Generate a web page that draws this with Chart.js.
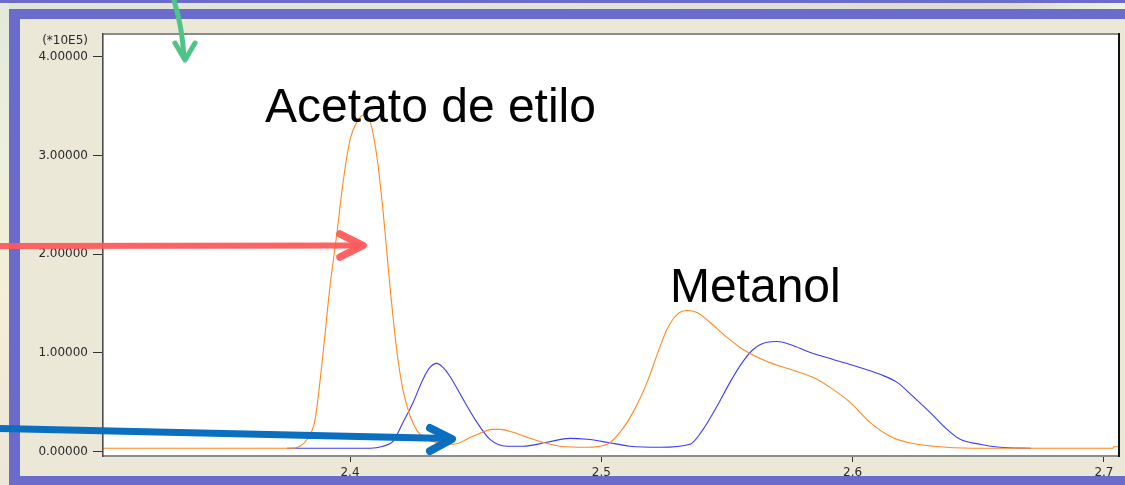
<!DOCTYPE html>
<html>
<head>
<meta charset="utf-8">
<title>Cromatograma</title>
<script src="https://cdn.jsdelivr.net/npm/chart.js@4.4.1/dist/chart.umd.min.js"></script>
<style>
  html, body { margin: 0; padding: 0; background: #ebe8d8; overflow: hidden; }
  #wrap { width: 1125px; height: 485px; position: relative; }
  canvas { display: block; }
</style>
</head>
<body>
<div id="wrap"><canvas id="chrom" width="1125" height="485"></canvas></div>
<script>
// Retention time (min) and detector signal (x10^5) for the two traces
const rtOrange = [2.3017, 2.3761, 2.3801, 2.3829, 2.3861, 2.3893, 2.3920, 2.3948, 2.3972, 2.4000,
                  2.4028, 2.4052, 2.4080, 2.4107, 2.4131, 2.4159, 2.4187, 2.4211, 2.4239, 2.4267,
                  2.4298, 2.4346, 2.4410, 2.4489, 2.4569, 2.4597, 2.4649, 2.4728, 2.4836, 2.4943,
                  2.5023, 2.5074, 2.5126, 2.5182, 2.5234, 2.5261, 2.5301, 2.5341, 2.5381, 2.5433,
                  2.5500, 2.5564, 2.5659, 2.5751, 2.5842, 2.5910, 2.5990, 2.6069, 2.6149, 2.6216,
                  2.6320, 2.6479, 2.7036, 2.7040, 2.7060];
const sigOrange = [0.033, 0.033, 0.054, 0.124, 0.327, 1.004, 1.671, 2.217, 2.723, 3.158,
                   3.340, 3.410, 3.340, 2.986, 2.450, 1.671, 1.004, 0.620, 0.360, 0.210,
                   0.140, 0.090, 0.074, 0.155, 0.225, 0.225, 0.195, 0.124, 0.054, 0.043,
                   0.074, 0.195, 0.397, 0.701, 1.065, 1.237, 1.388, 1.429, 1.408, 1.307,
                   1.156, 1.034, 0.913, 0.833, 0.752, 0.650, 0.498, 0.296, 0.155, 0.094,
                   0.054, 0.033, 0.033, 0.049, 0.049];

const rtBlue = [2.3749, 2.4080, 2.4131, 2.4171, 2.4211, 2.4251, 2.4290, 2.4318, 2.4346, 2.4370,
                2.4398, 2.4450, 2.4505, 2.4557, 2.4625, 2.4688, 2.4784, 2.4875, 2.4943, 2.5023,
                2.5114, 2.5234, 2.5353, 2.5405, 2.5460, 2.5512, 2.5564, 2.5604, 2.5659, 2.5699,
                2.5751, 2.5831, 2.5922, 2.6017, 2.6109, 2.6177, 2.6240, 2.6308, 2.6376, 2.6428,
                2.6507, 2.6587, 2.6710];
const sigBlue = [0.033, 0.033, 0.054, 0.104, 0.296, 0.498, 0.731, 0.852, 0.893, 0.852,
                 0.761, 0.529, 0.296, 0.124, 0.054, 0.054, 0.094, 0.134, 0.124, 0.094,
                 0.054, 0.043, 0.074, 0.225, 0.458, 0.701, 0.913, 1.034, 1.108, 1.115,
                 1.085, 1.004, 0.933, 0.862, 0.782, 0.701, 0.559, 0.397, 0.225, 0.124,
                 0.074, 0.043, 0.033];

// Axis ticks
const xTicks = [2.4, 2.5, 2.6, 2.7];
const yTicks = [0, 1, 2, 3, 4];
const yUnitLabel = '(*10E5)';

// Peak names, placed at (retention time, signal) of the text baseline start
const peakNames = ['Acetato de etilo', 'Metanol'];
const peakNameX = [2.3662, 2.5273];
const peakNameY = [3.340, 1.519];

const toPoints = (xs, ys) => xs.map((x, i) => ({ x: x, y: ys[i] }));

const decor = {
  id: 'decor',
  beforeDraw(chart) {
    const { ctx, chartArea: a } = chart;
    ctx.save();
    ctx.fillStyle = '#ebe8d8';
    ctx.fillRect(0, 0, chart.width, chart.height);
    ctx.fillStyle = '#ffffff';
    ctx.fillRect(a.left, a.top, a.right - a.left, a.bottom - a.top);
    ctx.restore();
  },
  afterDraw(chart) {
    const { ctx, chartArea: a, scales } = chart;
    const W = chart.width, H = chart.height;
    ctx.save();

    // sunken frame of the plot panel
    ctx.fillStyle = '#8c8c8c';
    ctx.fillRect(a.left - 1, a.top - 1, a.right - a.left + 3, 2);
    ctx.fillRect(a.left - 1, a.bottom - 1, a.right - a.left + 3, 2);
    ctx.fillStyle = '#4c4c4c';
    ctx.fillRect(a.left - 1, a.top - 1, 1.6, a.bottom - a.top + 2);
    ctx.fillStyle = '#111111';
    ctx.fillRect(a.right, a.top - 1, 2, a.bottom - a.top + 2);

    // unit label above the value axis
    ctx.fillStyle = '#2a2a2a';
    ctx.font = '12px "DejaVu Sans", Verdana, sans-serif';
    ctx.textAlign = 'right';
    ctx.textBaseline = 'middle';
    ctx.fillText(yUnitLabel, 88, 41);

    // window surround: light strips and blue bands
    const gTop = ctx.createLinearGradient(0, 0, W, 0);
    gTop.addColorStop(0, '#dfe6d8');
    gTop.addColorStop(0.5, '#e3e4d8');
    gTop.addColorStop(0.9, '#dcdcd2');
    gTop.addColorStop(1, '#eef6e2');
    ctx.fillStyle = gTop;
    ctx.fillRect(0, 3, W, 6);
    const gLeft = ctx.createLinearGradient(0, 0, 0, H);
    gLeft.addColorStop(0, '#e2eadb');
    gLeft.addColorStop(0.35, '#eef0dc');
    gLeft.addColorStop(0.6, '#f6eed6');
    gLeft.addColorStop(1, '#eee6d8');
    ctx.fillStyle = gLeft;
    ctx.fillRect(0, 3, 9, H - 3);

    ctx.fillStyle = '#6b6bcc';
    ctx.fillRect(0, 0, W, 3);
    ctx.fillRect(9, 9, W - 9, 10);
    ctx.fillRect(9, 9, 11, H - 9);
    ctx.fillRect(9, 476, W - 9, H - 476);

    // peak names
    ctx.fillStyle = '#000000';
    ctx.font = '48px "Liberation Sans", Arial, sans-serif';
    ctx.textAlign = 'left';
    ctx.textBaseline = 'alphabetic';
    peakNames.forEach((name, i) => {
      ctx.fillText(name, scales.x.getPixelForValue(peakNameX[i]), scales.y.getPixelForValue(peakNameY[i]));
    });

    // callout arrows
    ctx.lineCap = 'round';
    ctx.lineJoin = 'round';

    ctx.strokeStyle = '#4fc487';
    ctx.lineWidth = 5;
    ctx.beginPath();
    ctx.moveTo(173, -3);
    ctx.quadraticCurveTo(182, 25, 184, 57);
    ctx.stroke();
    ctx.beginPath();
    ctx.moveTo(175, 43);
    ctx.lineTo(185, 60);
    ctx.lineTo(195, 43);
    ctx.stroke();

    ctx.strokeStyle = 'rgba(255, 88, 88, 0.94)';
    ctx.lineWidth = 6;
    ctx.beginPath();
    ctx.moveTo(-4, 246);
    ctx.lineTo(358, 245.5);
    ctx.stroke();
    ctx.lineWidth = 7.5;
    ctx.beginPath();
    ctx.moveTo(340, 234);
    ctx.lineTo(363, 245.5);
    ctx.lineTo(340, 257);
    ctx.stroke();

    ctx.strokeStyle = '#0a6fbf';
    ctx.lineWidth = 7;
    ctx.beginPath();
    ctx.moveTo(-4, 428.5);
    ctx.lineTo(448, 438.5);
    ctx.stroke();
    ctx.lineWidth = 8;
    ctx.beginPath();
    ctx.moveTo(430, 428);
    ctx.lineTo(452, 439);
    ctx.lineTo(430, 451);
    ctx.stroke();

    ctx.restore();
  }
};

new Chart(document.getElementById('chrom'), {
  type: 'line',
  data: {
    datasets: [
      {
        data: toPoints(rtOrange, sigOrange),
        borderColor: '#ff8a1c',
        borderWidth: 1.1,
        pointRadius: 0,
        cubicInterpolationMode: 'monotone',
        fill: false
      },
      {
        data: toPoints(rtBlue, sigBlue),
        borderColor: '#3c3cf6',
        borderWidth: 1.1,
        pointRadius: 0,
        cubicInterpolationMode: 'monotone',
        fill: false
      }
    ]
  },
  options: {
    responsive: false,
    devicePixelRatio: 1,
    animation: false,
    events: [],
    layout: { padding: { left: 20, top: 34, right: 7, bottom: 0 } },
    plugins: { legend: { display: false }, tooltip: { enabled: false } },
    scales: {
      x: {
        type: 'linear',
        min: 2.3017,
        max: 2.7056,
        afterBuildTicks: (s) => { s.ticks = xTicks.map(v => ({ value: v })); },
        afterFit: (s) => { s.height = 29; },
        border: { display: false },
        grid: { drawOnChartArea: false, drawTicks: true, tickLength: 6, color: '#333333', lineWidth: 1 },
        ticks: {
          padding: 4,
          color: '#2a2a2a',
          font: { family: '"DejaVu Sans", Verdana, sans-serif', size: 12 },
          maxRotation: 0,
          callback: (v) => v.toFixed(1)
        }
      },
      y: {
        type: 'linear',
        min: -0.045,
        max: 4.23,
        afterBuildTicks: (s) => { s.ticks = yTicks.map(v => ({ value: v })); },
        afterFit: (s) => { s.width = 83; },
        border: { display: false },
        grid: { drawOnChartArea: false, drawTicks: true, tickLength: 10, color: '#333333', lineWidth: 1 },
        ticks: {
          padding: 5,
          color: '#2a2a2a',
          font: { family: '"DejaVu Sans", Verdana, sans-serif', size: 12 },
          callback: (v) => v.toFixed(5)
        }
      }
    }
  },
  plugins: [decor]
});
</script>
</body>
</html>
